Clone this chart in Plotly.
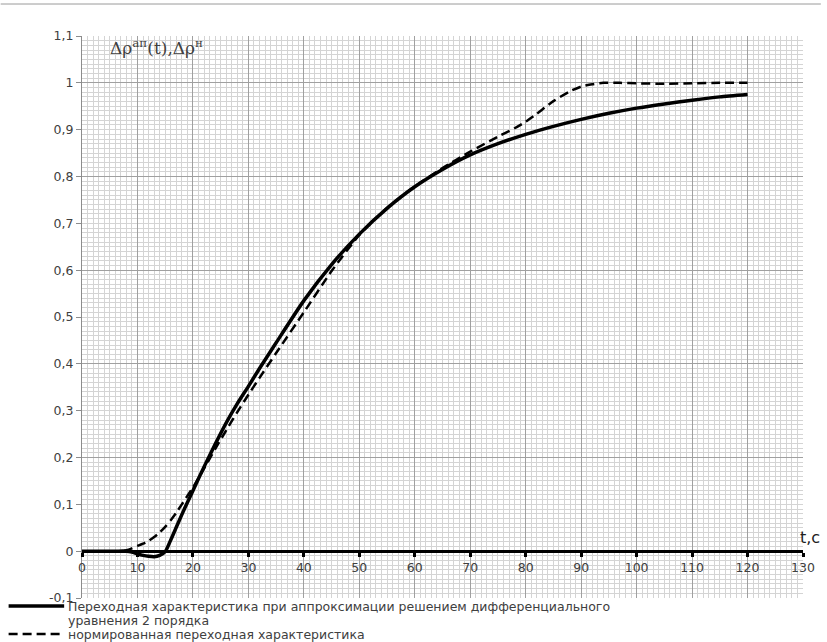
import plotly.graph_objects as go

# Time axis (s) and responses
t_approx = [0, 2, 4, 6, 8, 9, 10, 11, 12, 13, 14, 15, 16, 17, 18, 19, 20, 22, 24, 26, 28,
            30, 32, 35, 40, 45, 50, 55, 60, 65, 70, 75, 80, 85, 90, 95, 100, 105, 110, 115, 120]
v_approx = [0, 0, 0, 0, 0, -0.002, -0.006, -0.009, -0.011, -0.012, -0.009, -0.001, 0.024, 0.051,
            0.078, 0.104, 0.129, 0.18, 0.228, 0.274, 0.315, 0.352, 0.39, 0.445, 0.535, 0.612,
            0.677, 0.732, 0.778, 0.815, 0.846, 0.87, 0.89, 0.907, 0.922, 0.935, 0.946, 0.955,
            0.963, 0.97, 0.975]

t_norm = [0, 2, 4, 6, 7, 8, 9, 10, 11, 12, 13, 14, 15, 16, 17, 18, 19, 20, 22, 24, 26, 28, 30,
          32, 35, 40, 45, 50, 55, 60, 65, 70, 75, 78, 80, 82, 85, 88, 90, 92, 94, 97, 100, 105,
          110, 115, 120]
v_norm = [0, 0, 0, 0, 0, 0.002, 0.006, 0.011, 0.016, 0.022, 0.03, 0.04, 0.052, 0.066, 0.082,
          0.1, 0.118, 0.136, 0.176, 0.218, 0.258, 0.297, 0.334, 0.37, 0.423, 0.51, 0.598, 0.675,
          0.733, 0.779, 0.818, 0.853, 0.885, 0.903, 0.917, 0.934, 0.961, 0.982, 0.992, 0.997,
          1.0, 1.0, 0.999, 0.998, 0.999, 1.0, 1.0]

y_ticks = [-0.1, 0, 0.1, 0.2, 0.3, 0.4, 0.5, 0.6, 0.7, 0.8, 0.9, 1.0, 1.1]
y_labels = ["-0,1", "0", "0,1", "0,2", "0,3", "0,4", "0,5", "0,6", "0,7", "0,8", "0,9", "1", "1,1"]

legend_approx = ["Переходная характеристика при аппроксимации решением дифференциального",
                 "уравнения 2 порядка"]
legend_norm = ["нормированная переходная характеристика"]

Y_RANGE = [-0.1, 1.1]
TXT = "#404040"
W, H = 827, 642
M_L, M_R, M_T, M_B = 82, 18, 36, 44
PLOT_W, PLOT_H = W - M_L - M_R, H - M_T - M_B

SOLID = dict(color="black", width=3.5)
DASHED = dict(color="black", width=2.5, dash="9px,5px")


def px_x(px):
    """page pixel column -> paper x"""
    return (px - M_L) / PLOT_W


def px_y(py):
    """page pixel row -> paper y"""
    return (H - M_B - py) / PLOT_H


fig = go.Figure()
fig.add_trace(go.Scatter(x=t_approx, y=v_approx, mode="lines", name=" ".join(legend_approx),
                         line=dict(**SOLID, shape="spline", smoothing=0.6)))
fig.add_trace(go.Scatter(x=t_norm, y=v_norm, mode="lines", name=legend_norm[0],
                         line=dict(**DASHED, shape="spline", smoothing=0.6)))
# carrier for the coarse horizontal grid axis
fig.add_trace(go.Scatter(x=[None], y=[None], yaxis="y2", showlegend=False, hoverinfo="skip"))

zero_pos = (0 - Y_RANGE[0]) / (Y_RANGE[1] - Y_RANGE[0])

fig.update_layout(
    width=W, height=H,
    margin=dict(l=M_L, r=M_R, t=M_T, b=M_B),
    paper_bgcolor="white", plot_bgcolor="white",
    font=dict(family="DejaVu Sans", color=TXT, size=12),
    showlegend=False,
    xaxis=dict(
        range=[0, 130], tickmode="linear", tick0=0, dtick=10,
        showgrid=True, gridcolor="#a0a0a0", gridwidth=1,
        minor=dict(tickmode="linear", tick0=0, dtick=1, showgrid=True,
                   gridcolor="#d4d4d4", gridwidth=1),
        anchor="free", position=zero_pos,
        showline=True, linecolor="black", linewidth=2.5,
        ticks="outside", ticklen=4, tickwidth=3, tickcolor="black",
        tickfont=dict(family="DejaVu Sans", size=12.5, color=TXT),
        zeroline=False,
    ),
    yaxis=dict(
        range=Y_RANGE, tickmode="array", tickvals=y_ticks, ticktext=y_labels,
        showgrid=False,
        minor=dict(tickmode="linear", tick0=0, dtick=0.01, showgrid=True,
                   gridcolor="#d4d4d4", gridwidth=1),
        showline=True, linecolor="#8c8c8c", linewidth=1,
        ticks="outside", ticklen=5, tickcolor="#8c8c8c",
        tickfont=dict(family="DejaVu Sans", size=12.5, color=TXT),
        zeroline=False,
    ),
    yaxis2=dict(
        range=Y_RANGE, overlaying="y", tickmode="linear", tick0=0, dtick=0.2,
        showgrid=True, gridcolor="#a0a0a0", gridwidth=1,
        showticklabels=False, ticks="", zeroline=False, showline=False,
    ),
)

# axis captions
fig.add_annotation(text="Δρ<sup>ап</sup>(t),Δρ<sup>н</sup>", xref="paper", yref="paper",
                   x=0.036, y=0.981, xanchor="left", yanchor="middle", showarrow=False,
                   font=dict(family="DejaVu Serif", size=17, color=TXT))
fig.add_annotation(text="t,c", xref="paper", yref="paper",
                   x=1.026, y=0.108, xanchor="right", yanchor="middle", showarrow=False,
                   font=dict(family="DejaVu Sans", size=16, color="#202020"))

# key below the plot: line sample + caption rows
key_rows = [(606, legend_approx[0], SOLID), (620, legend_approx[1], None),
            (634, legend_norm[0], DASHED)]
for row_y, caption, style in key_rows:
    if style is not None:
        fig.add_shape(type="line", xref="paper", yref="paper",
                      x0=px_x(8), x1=px_x(64), y0=px_y(row_y), y1=px_y(row_y),
                      line=style)
    fig.add_annotation(text=caption, xref="paper", yref="paper",
                       x=px_x(67), y=px_y(row_y), xanchor="left", yanchor="middle",
                       showarrow=False, borderpad=0,
                       font=dict(family="DejaVu Sans", size=12.5, color=TXT))

# page rule above the chart
fig.add_shape(type="line", xref="paper", yref="paper", x0=px_x(0), x1=px_x(W),
              y0=px_y(4), y1=px_y(4), line=dict(color="#9a9a9a", width=1))

fig.write_html("out.html")
